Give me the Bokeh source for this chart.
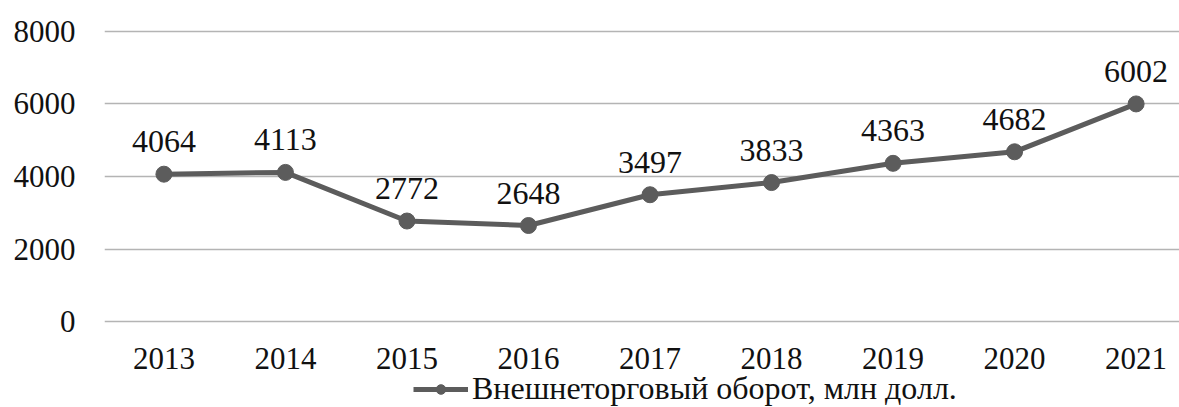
from bokeh.plotting import figure
from bokeh.models import Range1d, ColumnDataSource, Legend, LegendItem, FixedTicker
from bokeh.core.properties import value
from bokeh.embed import file_html
from bokeh.resources import INLINE

years = [2013, 2014, 2015, 2016, 2017, 2018, 2019, 2020, 2021]
turnover = [4064, 4113, 2772, 2648, 3497, 3833, 4363, 4682, 6002]
series_name = "Внешнеторговый оборот, млн долл."
y_ticks = [0, 2000, 4000, 6000, 8000]

FONT = "'Liberation Serif'"
COLOR = "#5c5c5c"

src = ColumnDataSource(dict(x=years, y=turnover, lbl=[str(v) for v in turnover]))

p = figure(width=None, height=None, frame_width=1075, frame_height=378,
           output_backend="svg", toolbar_location=None,
           x_range=Range1d(2012.511, 2021.357), y_range=Range1d(-2372, 8055),
           min_border_left=104, min_border_right=0, min_border_top=29, min_border_bottom=0)
p.outline_line_color = None
p.background_fill_color = "white"
p.border_fill_color = "white"

ln = p.line('x', 'y', source=src, line_color=COLOR, line_width=5)
sc = p.scatter('x', 'y', source=src, size=16, fill_color=COLOR, line_color=COLOR)
p.text('x', 'y', text='lbl', source=src, text_font=value(FONT), text_font_size="32px",
       text_align="center", text_baseline="bottom", y_offset=-22, text_color="#111111")

p.xaxis.ticker = FixedTicker(ticks=years)
p.yaxis.ticker = FixedTicker(ticks=y_ticks)
for ax in (p.xaxis, p.yaxis):
    ax.axis_line_color = None
    ax.major_tick_line_color = None
    ax.minor_tick_line_color = None
    ax.major_tick_out = 0
    ax.major_label_text_font = FONT
    ax.major_label_text_font_size = "31px"
    ax.major_label_text_color = "#111111"
p.yaxis.major_label_standoff = 29
p.xaxis.major_label_standoff = -60

p.xgrid.grid_line_color = None
p.ygrid.grid_line_color = "#b4b4b4"
p.ygrid.grid_line_width = 1.5
p.ygrid.ticker = FixedTicker(ticks=y_ticks)

legend = Legend(items=[LegendItem(label=series_name, renderers=[ln, sc])],
                location=(309, 0), orientation="horizontal",
                label_text_font=FONT, label_text_font_size="32px",
                label_text_color="#111111", glyph_width=55, glyph_height=24,
                border_line_color=None, background_fill_alpha=0,
                padding=0, margin=0, label_standoff=4, label_height=20)
p.add_layout(legend, "center")

open("out.html", "w").write(file_html(p, INLINE))
